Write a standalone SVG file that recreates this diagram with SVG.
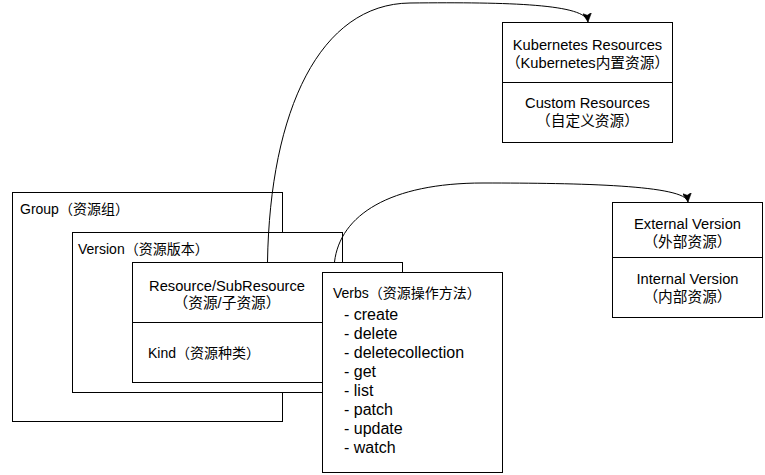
<svg xmlns="http://www.w3.org/2000/svg" width="765" height="475" viewBox="0 0 765 475">
<style>
.box{fill:#fff;stroke:#000;stroke-width:1}
.ln{fill:none;stroke:#000;stroke-width:1}
.t{font-family:"Liberation Sans","Noto Sans CJK SC",sans-serif;font-size:14px;fill:#000}
.l{font-size:16px}
.c{font-size:14.7px;text-anchor:middle}
.edge{fill:none;stroke:#000;stroke-width:1;marker-end:url(#arr)}
</style>
<defs>
<marker id="arr" markerUnits="userSpaceOnUse" markerWidth="9" markerHeight="9" viewBox="0 0 8 8" refX="8" refY="4" orient="auto">
<path d="M8,4 L0,0 L2,4 L0,8 Z" fill="#000" stroke="#000" stroke-width="0.5"/>
</marker>
</defs>
<rect width="765" height="475" fill="#fff"/>
<g id="group">
<rect class="box" x="12.5" y="192.5" width="270" height="229"/>
<text class="t" x="20" y="214">Group（资源组）</text>
</g>
<g id="version">
<rect class="box" x="72.5" y="232.5" width="270" height="160"/>
<text class="t" x="78" y="253.5">Version（资源版本）</text>
</g>
<g id="resource">
<rect class="box" x="132.5" y="262.5" width="270" height="120"/>
<line class="ln" x1="132.5" y1="322.5" x2="402.5" y2="322.5"/>
<text class="t c" x="227" y="291">Resource/SubResource</text>
<text class="t c" x="227" y="308">（资源/子资源）</text>
<text class="t" x="148" y="358">Kind（资源种类）</text>
</g>
<g id="verbs">
<rect class="box" x="322.5" y="272.5" width="180" height="200"/>
<text class="t" x="333" y="298">Verbs（资源操作方法）</text>
<text class="t l" x="344" y="319.5">- create</text>
<text class="t l" x="344" y="338.5">- delete</text>
<text class="t l" x="344" y="357.5">- deletecollection</text>
<text class="t l" x="344" y="376.5">- get</text>
<text class="t l" x="344" y="395.5">- list</text>
<text class="t l" x="344" y="414.5">- patch</text>
<text class="t l" x="344" y="433.5">- update</text>
<text class="t l" x="344" y="452.5">- watch</text>
</g>
<g id="kubernetes">
<rect class="box" x="502.5" y="22.5" width="170" height="120"/>
<line class="ln" x1="502.5" y1="82.5" x2="672.5" y2="82.5"/>
<text class="t c" x="587.5" y="50">Kubernetes Resources</text>
<text class="t c" x="587.5" y="67.5">（Kubernetes内置资源）</text>
<text class="t c" x="587.5" y="107.5">Custom Resources</text>
<text class="t c" x="587.5" y="125.5">（自定义资源）</text>
</g>
<g id="versions">
<rect class="box" x="612.5" y="202.5" width="150" height="115"/>
<line class="ln" x1="612.5" y1="257.5" x2="762.5" y2="257.5"/>
<text class="t c" x="687.5" y="229">External Version</text>
<text class="t c" x="687.5" y="246.5">（外部资源）</text>
<text class="t c" x="687.5" y="284">Internal Version</text>
<text class="t c" x="687.5" y="302">（内部资源）</text>
</g>
<g id="connectors">
<path class="edge" d="M267.5,262 C270,110 320,4 410,3 C510,2 586,4 588,22"/>
<path class="edge" d="M334.5,262 C340,215 390,183 483,183 C580,183 686,185 688,202"/>
</g>
</svg>
